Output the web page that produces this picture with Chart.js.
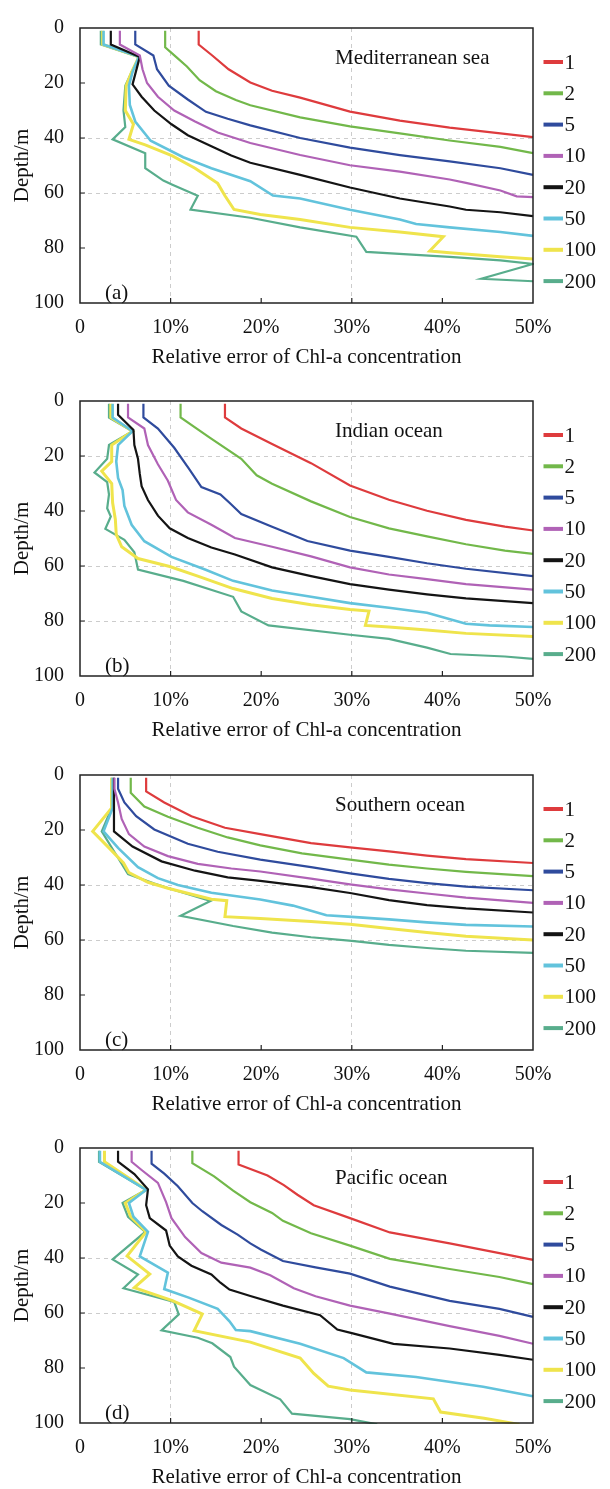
<!DOCTYPE html>
<html><head><meta charset="utf-8">
<script src="https://cdn.jsdelivr.net/npm/chart.js@4.4.1/dist/chart.umd.min.js"></script>
<style>
html,body{margin:0;padding:0;background:#fff;width:610px;height:1489px;overflow:hidden;position:relative;}
.panel{position:absolute;left:0;width:610px;height:373px;}
</style></head><body>
<div class="panel" style="top:0px"><canvas id="c0" width="610" height="373"></canvas></div>
<div class="panel" style="top:373px"><canvas id="c1" width="610" height="373"></canvas></div>
<div class="panel" style="top:747px"><canvas id="c2" width="610" height="373"></canvas></div>
<div class="panel" style="top:1120px"><canvas id="c3" width="610" height="373"></canvas></div>
<script>
// ---------- DATA ----------
const LEGEND_LABELS = ['1','2','5','10','20','50','100','200'];
const X_TICKS = [0,10,20,30,40,50];
const Y_TICKS = [0,20,40,60,80,100];
const PANEL_NAMES = ['Mediterranean sea','Indian ocean','Southern ocean','Pacific ocean'];
const PANEL_TAGS = ['(a)','(b)','(c)','(d)'];
const X_TITLE = 'Relative error of Chl-a concentration';
const Y_TITLE = 'Depth/m';

// [relative error %, depth m]
const med_1 = [[13.1,1],[13.1,6],[14.6,10],[16.4,15],[18.8,19.8],[21.2,22.8],[24.3,25.3],[29.8,30.4],[35.3,33.7],[40.8,36.2],[46.4,38.3],[50,39.7]];
const med_2 = [[9.4,1],[9.4,7],[10.6,10.5],[11.8,14],[13.2,19],[15,23],[17.2,26.2],[18.8,28.1],[24.3,32.5],[29.8,35.8],[35.3,38.3],[40.8,40.9],[46.4,43.2],[50,45.5]];
const med_5 = [[6.1,1],[6.1,6],[8.1,10],[8.5,15],[9.8,21],[11.9,26],[13.9,30.5],[16.3,33],[18.8,35.4],[24.3,40],[29.8,43.5],[35.3,46.2],[40.8,48.5],[46.4,51],[50,53.4]];
const med_10 = [[4.4,1],[4.4,6],[6.6,10],[6.9,15],[7.4,20],[8.6,25],[10.4,30],[12.7,34],[15.2,38],[18.8,41.8],[24.3,46.2],[29.8,49.9],[35.3,52.2],[40.8,55.1],[42.6,56.3],[46.4,59.1],[48.2,61.2],[50,61.5]];
const med_20 = [[3.4,1],[3.4,6],[6.6,10.5],[5.8,20.5],[6.8,25],[8.2,30],[10.1,35],[11.9,39],[14.5,43],[16.7,46.4],[18.8,49],[24.3,53.4],[29.8,58],[35.3,62],[40.8,64.9],[42.6,66.1],[46.4,67],[50,68.4]];
const med_50 = [[2.6,1],[2.6,6],[6.5,10.5],[5.8,16],[5.4,21],[5.5,28],[6.1,34],[7.8,41],[11.4,47],[14.5,51],[18.8,55.7],[21.3,60.9],[24.3,62],[29.8,66.1],[35.3,69.6],[37.1,71.3],[40.8,72.5],[46.4,74.2],[50,75.6]];
const med_100 = [[2.5,1],[2.5,6],[6.5,10.5],[5.7,16],[5.1,21],[5.0,30],[5.9,35],[5.4,40.5],[7.2,42.5],[10.2,46.5],[12.7,51],[15.2,56.5],[16,61],[17,66],[19.9,67.8],[24.3,69.6],[29.8,72.5],[35.3,74.2],[40.1,75.9],[38.6,81.1],[40.8,81.7],[46.4,83.2],[50,84]];
const med_200 = [[2.3,1],[2.3,6],[6.5,10.5],[5.7,16],[5.0,21],[4.8,30],[5.0,36],[3.6,40.5],[7.2,45.5],[7.2,51],[9.2,55.5],[10.2,57],[13,61],[12.2,66],[18.8,69],[24.3,72.5],[30.5,75.9],[31.6,81.4],[40.8,83.2],[46.4,84.5],[50,85.8],[44.3,91.2],[50,92.1]];

const ind_1 = [[16,1],[16,6],[17.8,10],[21.2,15.6],[25.5,22.6],[29.8,30.7],[34.1,35.9],[38.3,39.9],[42.6,43.2],[46.9,45.7],[50,47.1]];
const ind_2 = [[11.1,1],[11.1,6],[14.4,13.5],[17.8,21],[19.5,27],[21.2,30.1],[25.5,36.5],[29.8,42.2],[34.1,46.3],[38.3,49.2],[42.6,52.1],[46.9,54.4],[50,55.6]];
const ind_5 = [[7,1],[7,6],[8.6,10],[10.4,17],[12,24.5],[13.4,31.3],[15.5,34],[16.5,37],[17.8,41.1],[21.2,45.7],[25.1,50.9],[29.8,54.4],[34.1,56.7],[38.3,59],[42.6,61],[50,63.7]];
const ind_10 = [[5.3,1],[5.3,6],[7.1,10],[7.5,16],[8.6,23],[9.7,29],[10.6,36],[11.9,40.5],[14.5,45],[17.1,49.8],[21.2,53],[25.5,56.5],[29.8,60.5],[34.1,63.1],[38.3,64.8],[42.6,66.6],[50,68.6]];
const ind_20 = [[4.2,1],[4.2,5],[5.9,10.5],[6.0,16],[6.4,21],[6.6,26.5],[6.8,31],[7.5,36],[8.6,41.7],[9.9,46.3],[11.9,49.8],[14.5,53.3],[17.1,55.8],[21.2,60.5],[25.5,63.7],[29.8,66.6],[34.1,68.6],[38.3,70.3],[42.6,71.8],[50,73.5]];
const ind_50 = [[3.6,1],[3.6,6],[5.8,11],[4.2,16],[4.0,22],[4.2,28],[4.7,32.4],[4.9,38.2],[5.7,45],[7.1,51],[10.1,56.7],[13.8,61.3],[16.9,65.4],[21.2,68.9],[25.5,71.2],[29.8,73.5],[34.1,75.2],[38.3,77],[42.6,81],[45.2,81.6],[50,82.2]];
const ind_100 = [[3.4,1],[3.4,6],[5.8,11],[3.5,16],[3.5,22],[2.4,25.5],[3.5,30],[3.6,37],[3.9,43],[4.0,48.5],[4.6,53],[6.4,57.3],[9.9,60.2],[13,63.7],[16.9,68.2],[21.2,71.8],[25.5,74.1],[29.8,75.8],[31.9,76.4],[31.5,81.6],[34.1,82.2],[38.3,83.3],[42.6,84.5],[50,85.6]];
const ind_200 = [[3.2,1],[3.2,6],[5.8,11],[3.2,16],[3.0,21],[1.6,26],[3.0,29.5],[3.2,34],[3.0,39],[3.4,42],[2.8,46.5],[4.9,50.5],[6.0,55],[6.4,61.3],[11.4,65.4],[16.9,71.2],[17.8,76.5],[20.8,81.6],[29.8,85],[34.1,86.5],[38.3,89.7],[40.9,92],[46.9,92.9],[50,93.8]];

const sou_1 = [[7.3,1],[7.3,6],[9.3,10],[12.3,15],[16,19.2],[19.9,21.5],[25.5,24.8],[29.8,26.3],[34.1,27.8],[38.3,29.3],[42.6,30.6],[50,32]];
const sou_2 = [[5.6,1],[5.6,6.5],[7.1,11.5],[9.7,15.2],[13,19.2],[16.3,22.7],[19.9,25.6],[24.5,28.5],[29.8,30.8],[34.1,32.6],[38.3,34],[42.6,35.2],[50,36.8]];
const sou_5 = [[4.2,1],[4.2,5],[4.9,10],[6.2,15],[8.2,19.8],[11.9,25],[15.2,27.9],[19.9,30.8],[25.5,33.5],[29.8,35.8],[34.1,37.8],[38.3,39.3],[42.6,40.6],[50,41.9]];
const sou_10 = [[3.8,1],[3.8,5],[4.2,10],[4.6,16],[5.4,21.5],[7.1,26],[9.7,29.5],[13,32.3],[16.7,34],[19.9,35.1],[25.5,37.7],[29.8,39.8],[34.1,41.6],[38.3,43.1],[42.6,44.6],[50,46.5]];
const sou_20 = [[3.75,1],[3.75,20.5],[5.8,26],[9,31.4],[12.7,34.8],[16.3,37.2],[19.9,38.5],[25.5,40.8],[29.8,42.9],[34.1,45.5],[38.3,47.3],[42.6,48.5],[50,50]];
const sou_50 = [[3.6,1],[3.6,12],[2.6,20.5],[4.2,26.5],[6.4,33.5],[8.6,37.5],[10.8,40],[14.5,42.8],[19.9,45.3],[23.5,47.5],[27.2,51],[30,51.6],[34.1,52.5],[38.3,53.6],[42.6,54.5],[50,55.1]];
const sou_100 = [[3.5,1],[3.5,12],[1.4,20.5],[3.2,26.5],[4.8,32],[5.4,35.5],[7.5,39],[9.7,41.2],[14.5,45.2],[16.2,45.7],[16,51.5],[19.9,52.2],[25.5,53.3],[29.8,54.3],[34.1,55.8],[38.3,57.3],[42.6,58.6],[50,60]];
const sou_200 = [[3.5,1],[3.5,12],[2.4,20.5],[3.8,28],[5.3,36],[8.2,39.5],[10.4,41.8],[14.4,45.8],[11.1,51.2],[16.9,54.9],[21.2,57.3],[25.5,59],[30,60.3],[34.1,61.8],[38.3,62.9],[42.6,63.9],[50,64.7]];

const pac_1 = [[17.5,1],[17.5,6],[20.7,10],[22.5,13.5],[24,17],[25.8,20.8],[29.8,25.5],[34.2,30.7],[40.8,34.7],[46.3,38.2],[50,40.7]];
const pac_2 = [[12.4,1],[12.4,5.5],[14.8,10.3],[16.9,15.5],[18.8,19.7],[21.2,23.6],[22.4,26.5],[25.5,31],[29.8,35.5],[34.2,40.3],[40.8,44],[46.3,46.9],[50,49.5]];
const pac_5 = [[7.9,1],[7.9,5.7],[9.3,9.3],[10.8,13.9],[12.4,20],[13.5,23],[15.6,28],[17.4,31.5],[18.8,34.7],[20,37],[22.4,41.1],[26,43.4],[29.8,45.7],[34.2,50.4],[40.8,55.6],[46.3,58.5],[50,61.4]];
const pac_10 = [[5.7,1],[5.7,5],[6.8,8],[8.6,12.7],[9.5,19.7],[10.1,25.5],[11.6,32.4],[13.4,38.2],[15.6,41.7],[18.8,43.5],[21,46.3],[23.6,51],[26,53.9],[29.8,57.3],[34.2,60.2],[40.8,64.8],[46.3,68.3],[50,71.2]];
const pac_20 = [[4.2,1],[4.2,5],[6,9.5],[7.5,15],[7.3,20.8],[7.7,25.5],[9.5,30],[9.9,35.5],[10.8,39.4],[12.3,42.8],[14.5,46],[15.5,49],[16.5,51.5],[18.8,53.8],[22.4,57.3],[26.5,60.8],[28.4,66],[30,67.3],[34.6,71.2],[40.8,72.9],[46.3,75.2],[50,77]];
const pac_50 = [[2.2,1],[2.2,5],[7.3,15.2],[5.4,20],[5.9,25],[7.5,30.5],[6.6,39.4],[9.7,45.3],[9.3,51.3],[12,54.4],[15.2,58.5],[16.5,63],[17.2,66.2],[18.8,66.6],[24.3,71.2],[29.1,76.4],[31.6,81.6],[37.1,83.3],[44.5,86.8],[50,90.3]];
const pac_100 = [[2.7,1],[2.7,5],[7.3,15.2],[5.0,20],[5.6,25],[7.3,30.5],[5.2,39.3],[7.7,45.8],[6.0,50.8],[10.2,55.5],[13.5,60.4],[12.6,66.4],[18.8,70.6],[24.3,76.4],[25.8,82],[27.4,86.6],[29.8,88],[39,91.2],[39.8,96],[44.6,98.3],[48.5,100.5]];
const pac_200 = [[2.1,1],[2.1,5],[7.3,15.2],[4.7,20],[5.3,25],[7.2,30.5],[3.6,40.5],[6.4,46],[4.8,51],[10.4,56],[10.9,60.5],[9,66.3],[13,69],[14.6,71],[16.6,76],[17,79.5],[18.8,86.2],[22.1,91.4],[23.4,96.6],[29.8,98.6],[32.8,100.5]];

const PANEL_SERIES = [
  [med_1,med_2,med_5,med_10,med_20,med_50,med_100,med_200],
  [ind_1,ind_2,ind_5,ind_10,ind_20,ind_50,ind_100,ind_200],
  [sou_1,sou_2,sou_5,sou_10,sou_20,sou_50,sou_100,sou_200],
  [pac_1,pac_2,pac_5,pac_10,pac_20,pac_50,pac_100,pac_200]
];

// ---------- STYLE ----------
const COLORS = ['#de3b3d','#72b84a','#2f4b9d','#b062b6','#141414','#62c3dc','#efe44c','#58ad8c'];
const WIDTHS = [2.2,2.2,2.2,2.2,2.2,2.6,3,2.2];
const GRID_X = [[10,30],[10,30],[10,30],[10,30]];
const GRID_Y = [[40,60],[20,60,80],[40,60],[40,60]];
const FAMILY = '"Liberation Serif","Times New Roman",serif';

const decor = {
  id: 'decor',
  afterDatasetsDraw(chart, args, opts) {
    const {ctx, chartArea: a, scales: {x, y}} = chart;
    ctx.save();
    ctx.strokeStyle = '#222'; ctx.lineWidth = 1.5;
    ctx.strokeRect(a.left, a.top, a.right - a.left, a.bottom - a.top);
    ctx.lineWidth = 1.2;
    ctx.beginPath();
    Y_TICKS.slice(1, -1).forEach(v => { const p = y.getPixelForValue(v); ctx.moveTo(a.left, p); ctx.lineTo(a.left + 5, p); });
    X_TICKS.slice(1, -1).forEach(v => { const p = x.getPixelForValue(v); ctx.moveTo(p, a.bottom); ctx.lineTo(p, a.bottom - 5); });
    ctx.stroke();
    ctx.fillStyle = '#111';
    ctx.font = '21px ' + FAMILY;
    ctx.textBaseline = 'middle'; ctx.textAlign = 'left';
    ctx.fillText(opts.name, a.left + 255, a.top + 30.5);
    ctx.fillText(opts.tag, a.left + 25, a.top + 265);
    LEGEND_LABELS.forEach((lab, i) => {
      const yy = a.top + 34 + i * 31.3;
      ctx.strokeStyle = COLORS[i]; ctx.lineWidth = 4;
      ctx.beginPath(); ctx.moveTo(a.right + 10.5, yy); ctx.lineTo(a.right + 30, yy); ctx.stroke();
      ctx.fillStyle = '#111';
      ctx.fillText(lab, a.right + 31.5, yy + 1);
    });
    ctx.restore();
  }
};

Chart.defaults.font.family = FAMILY;

PANEL_SERIES.forEach((series, k) => {
  const gx = GRID_X[k], gy = GRID_Y[k];
  new Chart(document.getElementById('c' + k), {
    type: 'scatter',
    data: {
      datasets: series.map((pts, i) => ({
        label: LEGEND_LABELS[i],
        data: pts.map(p => ({x: p[0], y: p[1]})),
        borderColor: COLORS[i], backgroundColor: COLORS[i],
        borderWidth: WIDTHS[i], showLine: true, pointRadius: 0, pointHoverRadius: 0,
        tension: 0, fill: false, clip: 1
      }))
    },
    options: {
      responsive: false, animation: false, devicePixelRatio: 1,
      layout: {padding: {left: 0, right: 77, top: 15, bottom: 0}},
      plugins: {legend: {display: false}, tooltip: {enabled: false},
                decor: {name: PANEL_NAMES[k], tag: PANEL_TAGS[k]}},
      scales: {
        x: {
          type: 'linear', position: 'bottom', min: 0, max: 50,
          afterBuildTicks: s => { s.ticks = X_TICKS.map(v => ({value: v})); },
          ticks: {callback: v => v === 0 ? '0' : v + '%', font: {size: 20}, color: '#111', padding: 13, maxRotation: 0, autoSkip: false},
          grid: {drawTicks: false, lineWidth: 1, color: c => (c.tick && gx.includes(c.tick.value)) ? '#cccccc' : 'rgba(0,0,0,0)'},
          border: {display: false, dash: [4, 4]},
          title: {display: true, text: X_TITLE, font: {size: 21}, color: '#111', padding: {top: 0, bottom: 3}},
          afterFit: s => { s.height = 70; }
        },
        y: {
          type: 'linear', position: 'left', reverse: true, min: 0, max: 100,
          afterBuildTicks: s => { s.ticks = Y_TICKS.map(v => ({value: v})); },
          ticks: {font: {size: 20}, color: '#111', padding: 16, autoSkip: false},
          grid: {drawTicks: false, lineWidth: 1, color: c => (c.tick && gy.includes(c.tick.value)) ? '#cccccc' : 'rgba(0,0,0,0)'},
          border: {display: false, dash: [4, 4]},
          title: {display: true, text: Y_TITLE, font: {size: 21}, color: '#111', padding: {top: 10, bottom: 0}},
          afterFit: s => { s.width = 80; }
        }
      }
    },
    plugins: [decor]
  });
});
</script>
</body></html>
